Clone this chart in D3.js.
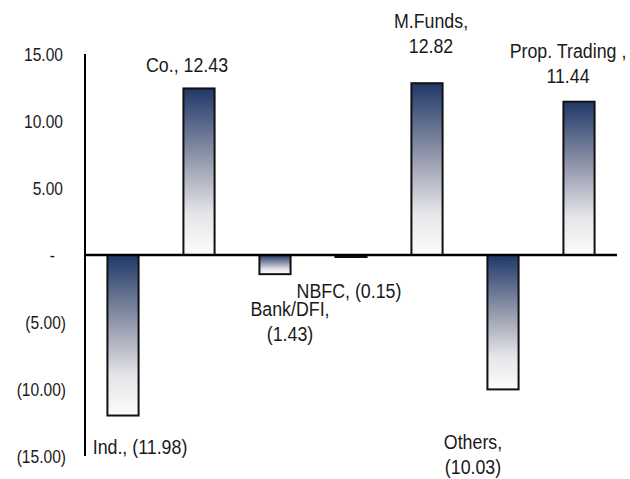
<!DOCTYPE html>
<html>
<head>
<meta charset="utf-8">
<script src="https://cdn.jsdelivr.net/npm/d3@7"></script>
<style>
  body { margin: 0; background: #fff; }
  text { font-family: "Liberation Sans", Arial, sans-serif; fill: #1a1a1a; }
</style>
</head>
<body>
<script>
var categories = ["Ind.", "Co.", "Bank/DFI", "NBFC", "M.Funds", "Others", "Prop. Trading "];
var values = [-11.98, 12.43, -1.43, -0.15, 12.82, -10.03, 11.44];
var yTicks = [15, 10, 5, 0, -5, -10, -15];

// manual label placement (offset from bar centre / bar end), and whether to wrap
var labelDx = [17, -12, 15, -2, 4, -30, -11];
var labelDy = [38, -16, 42, 41, -55, 60, -44];
var labelWrap = [false, false, true, false, true, true, true];

var width = 630, height = 479;
var tickSize = 19, labelSize = 20;
// no narrow font installed, so squeeze the text horizontally
var tickSqueeze = 0.82, labelSqueeze = 0.89;

var svg = d3.select("body").append("svg")
  .attr("width", width)
  .attr("height", height);

var x = d3.scaleBand()
  .domain(categories)
  .range([85, 617])
  .paddingInner(0.59)
  .paddingOuter(0.295);

var y = d3.scaleLinear()
  .domain([-15, 15])
  .range([456, 54]);

var defs = svg.append("defs");
var grad = defs.append("linearGradient")
  .attr("id", "barGrad")
  .attr("x1", 0).attr("y1", 0)
  .attr("x2", 0).attr("y2", 1);
grad.append("stop").attr("offset", "0%").attr("stop-color", "#1f3868");
grad.append("stop").attr("offset", "45%").attr("stop-color", "#9a9eb0");
grad.append("stop").attr("offset", "75%").attr("stop-color", "#e4e5e8");
grad.append("stop").attr("offset", "100%").attr("stop-color", "#fcfcfc");

var fmt = function(v) {
  if (v === 0) return "-";
  var s = Math.abs(v).toFixed(2);
  return v < 0 ? "(" + s + ")" : s;
};

// bars
svg.selectAll("rect.bar")
  .data(values)
  .enter().append("rect")
  .attr("class", "bar")
  .attr("x", function(d, i) { return x(categories[i]); })
  .attr("y", function(d) { return Math.min(y(d), y(0)); })
  .attr("width", x.bandwidth())
  .attr("height", function(d) { return Math.abs(y(d) - y(0)); })
  .style("fill", "url(#barGrad)")
  .style("stroke", "#111")
  .style("stroke-width", 2);

// y axis line (no tick marks)
svg.append("line")
  .attr("x1", 85).attr("x2", 85)
  .attr("y1", y(15)).attr("y2", y(-15))
  .style("stroke", "#000")
  .style("stroke-width", 2);

// zero line
svg.append("line")
  .attr("x1", 84).attr("x2", 617)
  .attr("y1", y(0)).attr("y2", y(0))
  .style("stroke", "#000")
  .style("stroke-width", 2.5);

// tick labels
svg.selectAll("text.tick")
  .data(yTicks)
  .enter().append("text")
  .attr("class", "tick")
  .attr("transform", function(d) {
    var tx = d === 0 ? 55 : (d > 0 ? 63 : 66);
    return "translate(" + tx + "," + y(d) + ") scale(" + tickSqueeze + ",1)";
  })
  .attr("dy", "0.35em")
  .attr("text-anchor", "end")
  .style("font-size", tickSize + "px")
  .text(fmt);

// data labels
var labels = svg.selectAll("text.label")
  .data(values)
  .enter().append("text")
  .attr("class", "label")
  .attr("text-anchor", "middle")
  .style("font-size", labelSize + "px")
  .attr("transform", function(d, i) {
    var cx = x(categories[i]) + x.bandwidth() / 2 + labelDx[i];
    return "translate(" + cx + "," + (y(d) + labelDy[i]) + ") scale(" + labelSqueeze + ",1)";
  });

labels.each(function(d, i) {
  var t = d3.select(this);
  var name = categories[i] + ",";
  if (labelWrap[i]) {
    t.append("tspan").attr("x", 0).attr("y", 0).text(name);
    t.append("tspan").attr("x", 0).attr("y", 25).text(fmt(d));
  } else {
    t.append("tspan").attr("x", 0).attr("y", 0).text(name + " " + fmt(d));
  }
});
</script>
</body>
</html>
